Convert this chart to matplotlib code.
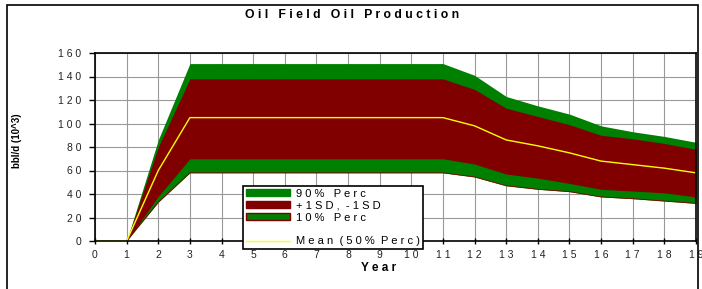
import matplotlib.pyplot as plt
import matplotlib.patches as mpatches
from matplotlib.lines import Line2D
import numpy as np

plt.rcParams['font.family'] = ['Liberation Sans', 'DejaVu Sans']

years = [1, 2, 3, 4, 5, 6, 7, 8, 9, 10, 11, 12, 13, 14, 15, 16, 17, 18, 19]
p90 = [0, 86, 151, 151, 151, 151, 151, 151, 151, 151, 151, 141, 123, 115, 108, 98, 93, 89, 84]
sd_hi = [0, 80, 138, 138, 138, 138, 138, 138, 138, 138, 138, 129, 113, 106, 99, 90, 87, 83, 78]
mean = [0, 60, 105, 105, 105, 105, 105, 105, 105, 105, 105, 98, 86, 81, 75, 68, 65, 62, 58]
sd_lo = [0, 38, 70, 70, 70, 70, 70, 70, 70, 70, 70, 65.5, 57, 53.5, 49, 44, 42.5, 41, 37.5]
p10 = [0, 33, 58, 58, 58, 58, 58, 58, 58, 58, 58, 54.5, 47, 44, 42, 37.5, 36, 34, 32]
mean_years = [0] + years
mean_full = [0] + mean

green = '#008000'
red = '#800000'
yellow = '#ffff00'

def spaced(s):
    return ' '.join(s)

fig = plt.figure(figsize=(7.02, 2.89), dpi=100)
fig.patches.append(mpatches.Rectangle((7 / 702, -0.01), 691 / 702, 1 - 5 / 289 + 0.01,
                                      transform=fig.transFigure, fill=False,
                                      edgecolor='black', linewidth=1.2))
ax = fig.add_axes([95 / 702, 48 / 289, 601 / 702, 188 / 289])

ax.fill_between(years, p10, p90, color=green, linewidth=0)
ax.fill_between(years, sd_lo, sd_hi, color=red, linewidth=0)
ax.plot(years, p10, color=red, linewidth=0.6)
ax.plot(mean_years, mean_full, color=yellow, linewidth=1)

ax.set_xlim(0, 19)
ax.set_ylim(0, 160)
ax.set_xticks(range(0, 20))
ax.set_xticklabels([spaced(str(i)) for i in range(0, 20)], fontsize=7.5, color='#222222')
ax.set_yticks(range(0, 161, 20))
ax.set_yticklabels([spaced(str(v)) for v in range(0, 161, 20)], fontsize=7.5, color='#222222')
ax.tick_params(axis='x', direction='inout', length=5, width=1, pad=4)
ax.tick_params(axis='y', direction='out', length=4, width=1, pad=6)
ax.grid(True, color='#999999', linewidth=0.8)
ax.set_axisbelow(True)
for s in ax.spines.values():
    s.set_linewidth(1.2)
    s.set_color('black')

fig.text(352 / 702, 1 - 15 / 289, spaced('Oil') + '   ' + spaced('Field') + '   ' + spaced('Oil') + '   ' + spaced('Production'),
         ha='center', va='center', fontsize=8.8, fontweight='bold')
fig.text(17 / 702, 1 - 141 / 289, 'bbl/d (10^3)', rotation=90, ha='center', va='center',
         fontsize=7, fontweight='bold')
fig.text(379 / 702, 1 - 268 / 289, spaced('Year'), ha='center', va='center',
         fontsize=8.5, fontweight='bold')

handles = [
    mpatches.Patch(facecolor=green, edgecolor=green),
    mpatches.Patch(facecolor=red, edgecolor=red),
    mpatches.Patch(facecolor=green, edgecolor=red),
    mpatches.Patch(facecolor='none', edgecolor='none'),
    Line2D([], [], color=yellow, linewidth=1),
]
labels = [
    spaced('90%') + '   ' + spaced('Perc'),
    spaced('+1SD,') + '  ' + spaced('-1SD'),
    spaced('10%') + '   ' + spaced('Perc'),
    '',
    spaced('Mean') + '  ' + spaced('(50%') + '  ' + spaced('Perc)'),
]
leg = ax.legend(handles, labels, loc='upper left', bbox_to_anchor=(243 / 702, 1 - 186 / 289),
                bbox_transform=fig.transFigure, fontsize=8, frameon=True, fancybox=False,
                framealpha=1, handlelength=4.0, handleheight=0.6, borderpad=0.25,
                labelspacing=0.17, handletextpad=0.5, borderaxespad=0)
leg.get_frame().set_edgecolor('black')
leg.get_frame().set_linewidth(1.2)
leg.set_zorder(10)

fig.savefig('out.png', dpi=100)
